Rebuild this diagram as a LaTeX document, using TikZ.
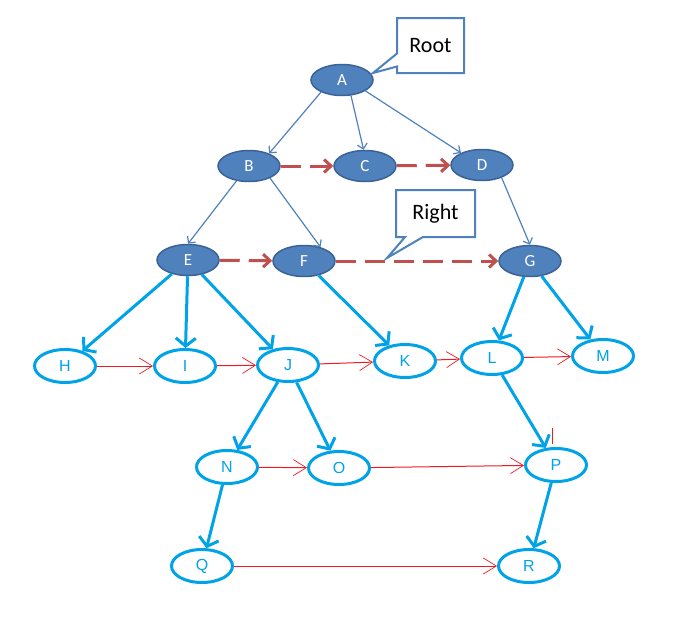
\documentclass[tikz,border=0pt]{standalone}
\usepackage{fontspec}
\setmainfont{Carlito}
\newfontfamily\letterfont{Liberation Sans}
\usetikzlibrary{arrows.meta,shapes.geometric,shapes.callouts}
\definecolor{topfill}{HTML}{4F81BD}
\definecolor{topline}{HTML}{3A6296}
\definecolor{dashred}{HTML}{C0504D}
\definecolor{cyanline}{HTML}{00A2E8}
\definecolor{linkred}{HTML}{ED1C24}
\begin{document}
\begin{tikzpicture}[x=1pt,y=-1pt,
  upper/.style={ellipse, draw=topline, line width=1.5pt, fill=topfill,
    minimum width=62pt, minimum height=31pt, inner sep=0pt, text=white,
    font=\fontsize{17}{17}\selectfont},
  lower/.style={ellipse, draw=cyanline, line width=3pt, fill=white,
    minimum width=61pt, minimum height=33pt, inner sep=0pt, text=cyanline,
    font=\letterfont\fontsize{16}{16}\selectfont},
  treeedge/.style={draw=topfill, line width=1.2pt,
    -{Straight Barb[length=5pt,width=10pt,line width=1.2pt]}},
  siblink/.style={draw=dashred, line width=3pt, dash pattern=on 20pt off 9pt,
    -{Straight Barb[length=7pt,width=13pt,line width=3pt]}},
  childedge/.style={draw=cyanline, line width=3pt,
    -{Straight Barb[length=8pt,width=20pt,line width=3pt]}},
  nextlink/.style={draw=linkred, line width=1pt,
    -{Straight Barb[length=13pt,width=16pt,line width=0.7pt]}},
  note/.style={rectangle callout, draw=topfill, line width=2pt, fill=white,
    text=black, font=\fontsize{22}{22}\selectfont, inner sep=0pt}
]
\useasboundingbox (0,0) rectangle (696,616);

% upper tree
\node[upper] (A) at (342,80) {A};
\node[upper] (B) at (249,166) {B};
\node[upper] (C) at (365,166) {C};
\node[upper] (D) at (482,165) {D};
\node[upper] (E) at (188,260) {E};
\node[upper] (F) at (304,261) {F};
\node[upper] (G) at (530,261) {G};

% lower tree
\node[lower] (H) at (65,366) {H};
\node[lower] (I) at (185,366) {I};
\node[lower] (J) at (288,365) {J};
\node[lower] (K) at (405,361) {K};
\node[lower] (L) at (492,358) {L};
\node[lower] (M) at (603,356) {M};
\node[lower] (N) at (227,467) {N};
\node[lower] (O) at (339,468) {O};
\node[lower] (P) at (556,465) {P};
\node[lower] (Q) at (202,566) {Q};
\node[lower] (R) at (529,566) {R};

% parent-child links, upper part
\draw[treeedge] (A.210) -- (B.32);
\draw[treeedge] (A.-60) -- (C.95);
\draw[treeedge] (A.-25) -- (D.150);
\draw[treeedge] (B.230) -- (E.north);
\draw[treeedge] (B.-30) -- (F.40);
\draw[treeedge] (D.-33) -- (G.north);

% right-sibling links, upper part
\draw[siblink] (B) -- (C);
\draw[siblink] (C) -- (D);
\draw[siblink] (E) -- (F);
\draw[siblink] (F) -- (G);

% parent-child links, lower part
\draw[childedge] (E) -- (H);
\draw[childedge] (E) -- (I);
\draw[childedge] (E) -- (J);
\draw[childedge] (F) -- (K);
\draw[childedge] (G) -- (L);
\draw[childedge] (G) -- (M);
\draw[childedge] (J) -- (N);
\draw[childedge] (J) -- (O);
\draw[childedge] (L) -- (P);
\draw[childedge] (N) -- (Q);
\draw[childedge] (P) -- (R);

% next links, lower part
\draw[nextlink] (H) -- (I);
\draw[nextlink] (I) -- (J);
\draw[nextlink] (J) -- (K);
\draw[nextlink] (K) -- (L);
\draw[nextlink] (L) -- (M);
\draw[nextlink] (N) -- (O);
\draw[nextlink] (O) -- (P);
\draw[nextlink] (Q) -- (R);
\draw[draw=linkred, line width=1pt] (P.north) ++(-4,-3) -- ++(0,-16);

% callouts
\coordinate (roottip) at (373,73);
\coordinate (righttip) at (387,258);
\node[note, minimum width=67pt, minimum height=55pt,
  callout absolute pointer=(roottip), callout pointer width=13pt]
  (rootnote) at (430.5,45.5) {Root};
\node[note, minimum width=79pt, minimum height=47pt,
  callout absolute pointer=(righttip), callout pointer width=18pt]
  (rightnote) at (435.5,213.5) {Right};
\end{tikzpicture}
\end{document}
